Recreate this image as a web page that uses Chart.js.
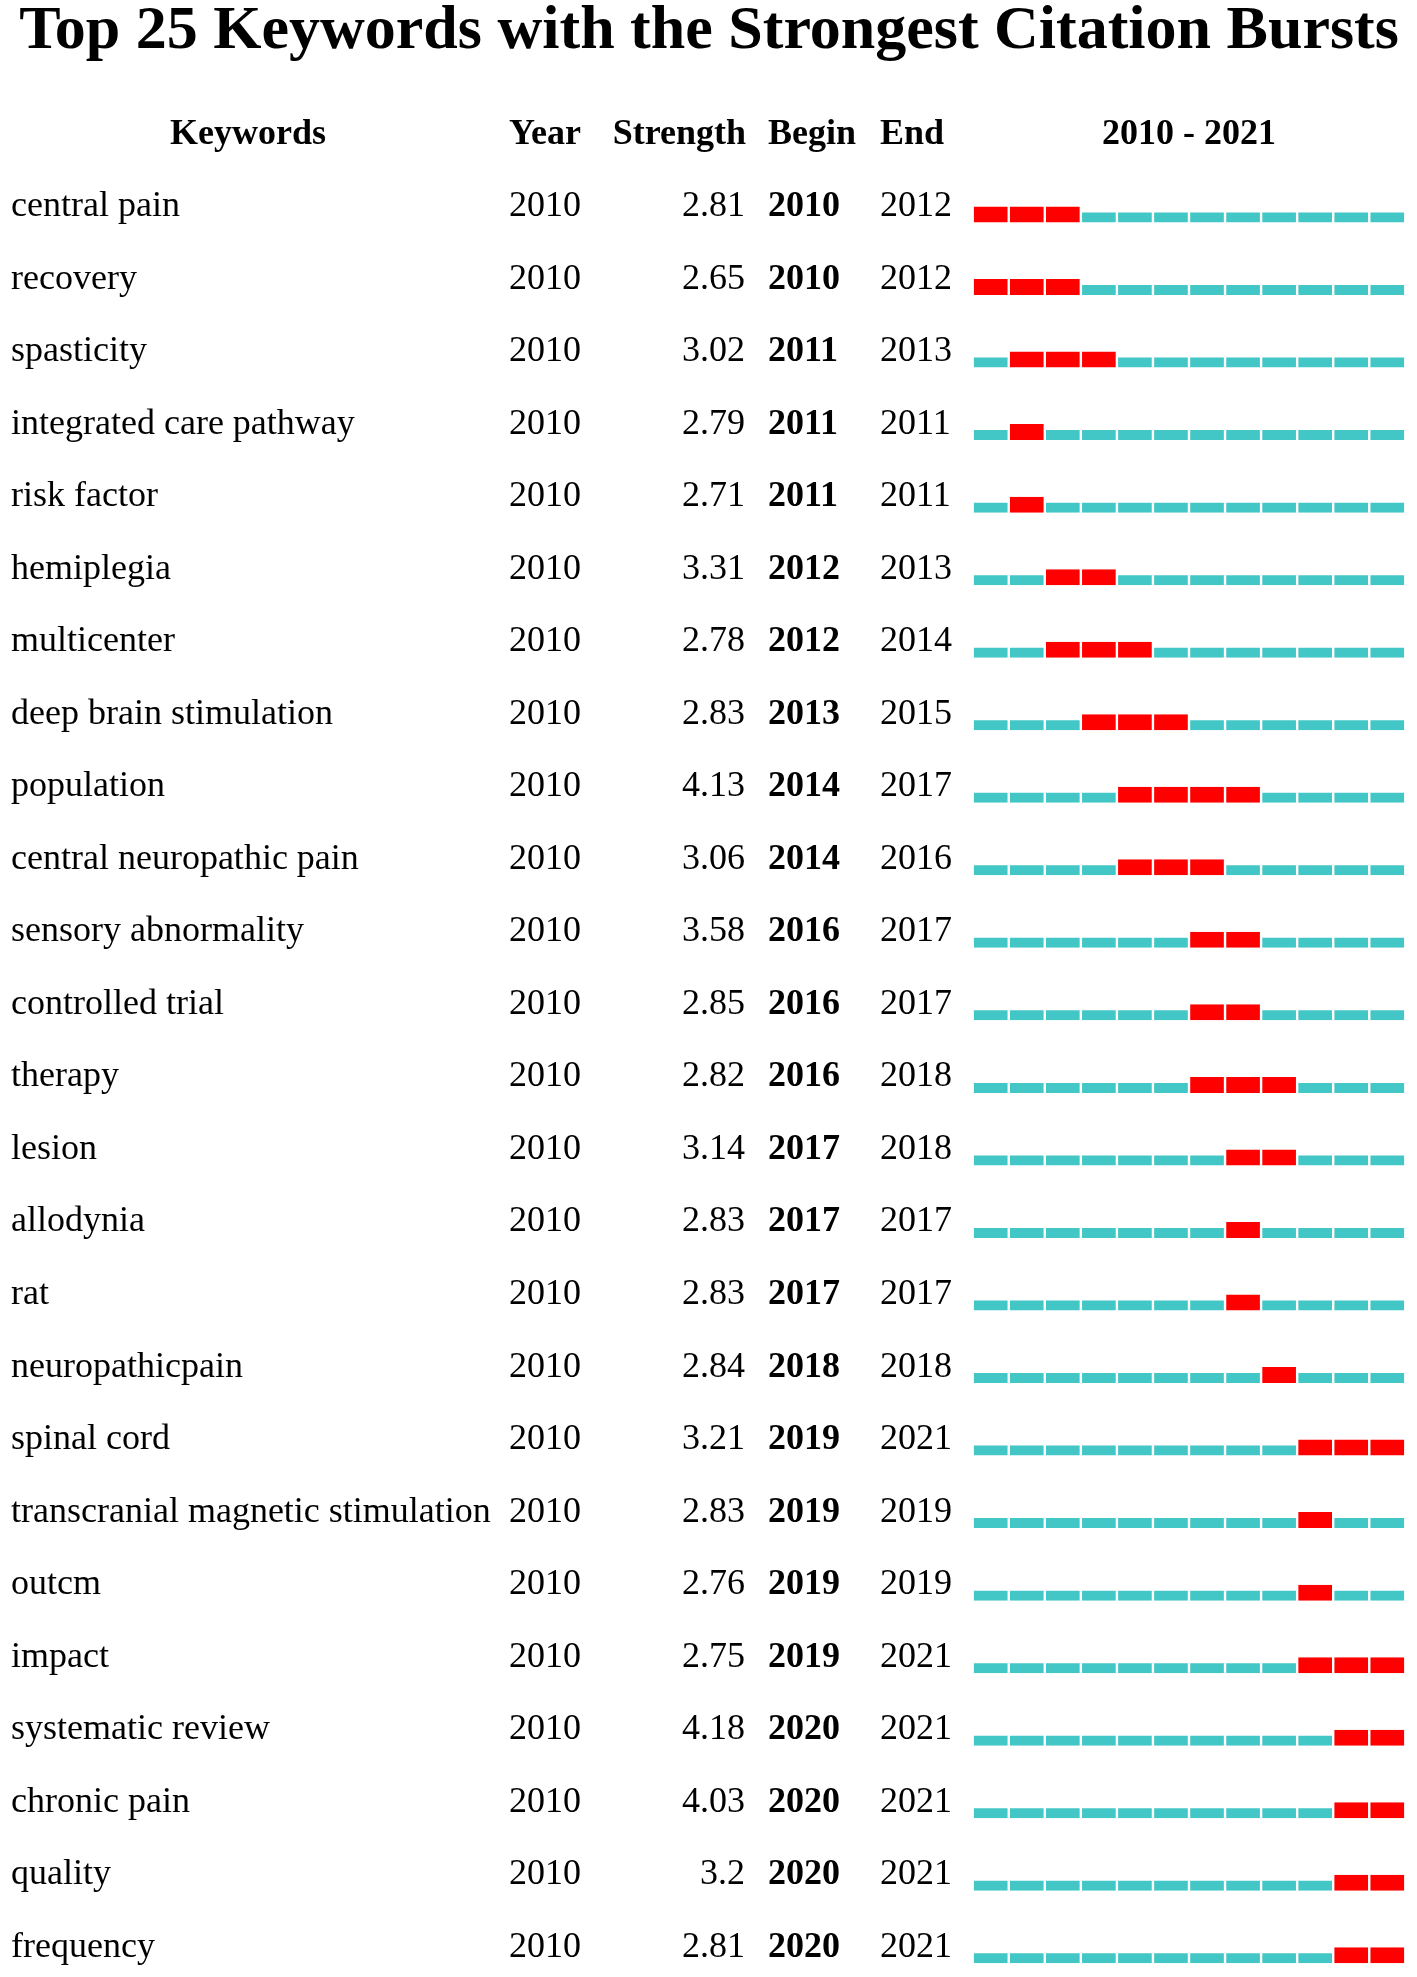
<!DOCTYPE html>
<html>
<head>
<meta charset="utf-8">
<title>Top 25 Keywords with the Strongest Citation Bursts</title>
<script src="https://cdn.jsdelivr.net/npm/chart.js@4/dist/chart.umd.min.js"></script>
<style>
  html, body { margin: 0; padding: 0; background: #fff; }
  canvas { display: block; }
</style>
</head>
<body>
<canvas id="burst-chart" width="1417" height="1977"></canvas>
<script>
// data
var keywords = [
    'central pain', 'recovery', 'spasticity', 'integrated care pathway', 'risk factor',
    'hemiplegia', 'multicenter', 'deep brain stimulation', 'population', 'central neuropathic pain',
    'sensory abnormality', 'controlled trial', 'therapy', 'lesion', 'allodynia',
    'rat', 'neuropathicpain', 'spinal cord', 'transcranial magnetic stimulation', 'outcm',
    'impact', 'systematic review', 'chronic pain', 'quality', 'frequency'
];
var firstYear = [
    2010, 2010, 2010, 2010, 2010, 2010, 2010, 2010, 2010, 2010, 2010, 2010, 2010,
    2010, 2010, 2010, 2010, 2010, 2010, 2010, 2010, 2010, 2010, 2010, 2010
];
var strength = [
    2.81, 2.65, 3.02, 2.79, 2.71, 3.31, 2.78, 2.83, 4.13, 3.06, 3.58, 2.85, 2.82,
    3.14, 2.83, 2.83, 2.84, 3.21, 2.83, 2.76, 2.75, 4.18, 4.03, 3.2, 2.81
];
var beginYear = [
    2010, 2010, 2011, 2011, 2011, 2012, 2012, 2013, 2014, 2014, 2016, 2016, 2016,
    2017, 2017, 2017, 2018, 2019, 2019, 2019, 2019, 2020, 2020, 2020, 2020
];
var endYear = [
    2012, 2012, 2013, 2011, 2011, 2013, 2014, 2015, 2017, 2016, 2017, 2017, 2018,
    2018, 2017, 2017, 2018, 2021, 2019, 2019, 2021, 2021, 2021, 2021, 2021
];
var years = [2010, 2011, 2012, 2013, 2014, 2015, 2016, 2017, 2018, 2019, 2020, 2021];
var headers = ['Keywords', 'Year', 'Strength', 'Begin', 'End', '2010 - 2021'];
var titleText = 'Top 25 Keywords with the Strongest Citation Bursts';

var RED = '#ff0000';
var TEAL = '#43c6c6';
var FONT = "'Liberation Serif', 'Times New Roman', serif";

function isBurst(row, year) {
    return year >= beginYear[row] && year <= endYear[row];
}

// one dataset per year, each bar spans [year, year + 1]
var datasets = years.map(function(year) {
    return {
        label: String(year),
        data: keywords.map(function() { return [year, year + 1]; }),
        backgroundColor: function(c) { return isBurst(c.dataIndex, year) ? RED : TEAL; },
        borderColor: '#ffffff',
        borderWidth: function(c) {
            return { top: isBurst(c.dataIndex, year) ? 0 : 6, bottom: 0, left: 1.2, right: 1.2 };
        },
        borderSkipped: false,
        inflateAmount: 0,
        barThickness: 16,
        grouped: false,
        clip: false
    };
});

var tablePlugin = {
    id: 'tableText',
    afterDraw: function(chart) {
        var ctx = chart.ctx;
        var y = chart.scales.y;
        var x = chart.scales.x;
        ctx.save();
        ctx.fillStyle = '#000';
        ctx.textBaseline = 'alphabetic';

        // title
        ctx.font = 'bold 62px ' + FONT;
        ctx.textAlign = 'center';
        ctx.fillText(titleText, 709, 48);

        // header
        var hy = 144;
        ctx.font = 'bold 36px ' + FONT;
        ctx.textAlign = 'center';
        ctx.fillText(headers[0], 248, hy);
        ctx.textAlign = 'left';
        ctx.fillText(headers[1], 509, hy);
        ctx.textAlign = 'right';
        ctx.fillText(headers[2], 746, hy);
        ctx.textAlign = 'left';
        ctx.fillText(headers[3], 768, hy);
        ctx.fillText(headers[4], 880, hy);
        ctx.textAlign = 'center';
        ctx.fillText(headers[5], (x.getPixelForValue(2010) + x.getPixelForValue(2022)) / 2, hy);

        // rows
        keywords.forEach(function(kw, i) {
            var by = y.getPixelForValue(i) + 1.5;
            ctx.font = '36px ' + FONT;
            ctx.textAlign = 'left';
            ctx.fillText(kw, 11, by);
            ctx.fillText(String(firstYear[i]), 509, by);
            ctx.textAlign = 'right';
            ctx.fillText(String(strength[i]), 745, by);
            ctx.textAlign = 'left';
            ctx.fillText(String(endYear[i]), 880, by);
            ctx.font = 'bold 36px ' + FONT;
            ctx.fillText(String(beginYear[i]), 768, by);
        });
        ctx.restore();
    }
};

var ctx = document.getElementById('burst-chart');
var burstChart = new Chart(ctx, {
    type: 'bar',
    data: { labels: keywords, datasets: datasets },
    options: {
        indexAxis: 'y',
        responsive: false,
        animation: false,
        devicePixelRatio: 1,
        layout: { padding: { left: 972.7, right: 11.7, top: 214.5, bottom: 21.7 } },
        scales: {
            x: { type: 'linear', min: 2010, max: 2022, display: false },
            y: { type: 'category', offset: false, display: false, grid: { display: false } }
        },
        plugins: {
            legend: { display: false },
            tooltip: { enabled: false }
        }
    },
    plugins: [tablePlugin]
});
</script>
</body>
</html>
